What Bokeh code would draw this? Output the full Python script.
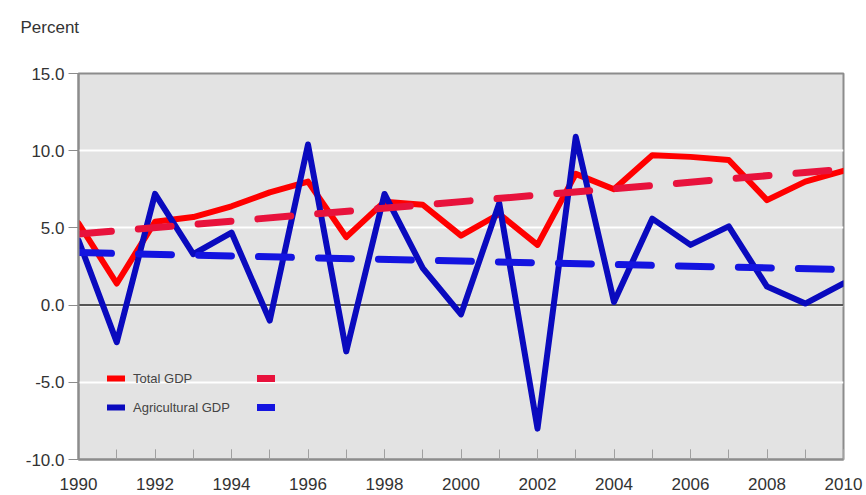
from bokeh.plotting import figure
from bokeh.models import (Range1d, SingleIntervalTicker, FixedTicker, NumeralTickFormatter,
                          Span, Title, Legend, LegendItem)
from bokeh.embed import file_html
from bokeh.resources import INLINE

# ---- data ----
years = [1990, 1991, 1992, 1993, 1994, 1995, 1996, 1997, 1998, 1999, 2000,
         2001, 2002, 2003, 2004, 2005, 2006, 2007, 2008, 2009, 2010]
total_gdp = [5.3, 1.4, 5.4, 5.7, 6.4, 7.3, 8.0, 4.4, 6.7, 6.5, 4.5,
             5.9, 3.9, 8.5, 7.5, 9.7, 9.6, 9.4, 6.8, 8.0, 8.7]
agri_gdp = [4.2, -2.4, 7.2, 3.3, 4.7, -1.0, 10.4, -3.0, 7.2, 2.4, -0.6,
            6.6, -8.0, 10.9, 0.2, 5.6, 3.9, 5.1, 1.2, 0.1, 1.4]
trend_years = [1990, 2010]
total_trend = [4.6, 8.8]
agri_trend = [3.4, 2.3]
y_ticks = [-10, -5, 0, 5, 10, 15]
series_labels = ["Total GDP", "Agricultural GDP"]
y_title = "Percent"

FONT = "Liberation Sans"

p = figure(width=866, height=495, output_backend="svg", toolbar_location=None,
           x_range=Range1d(1990, 2010), y_range=Range1d(-10, 15),
           min_border_left=78, min_border_right=23, min_border_top=73, min_border_bottom=36)

p.background_fill_color = "#E3E3E3"
p.border_fill_color = "white"
p.outline_line_color = "#8C8C8C"
p.outline_line_width = 2

# grid
p.xgrid.grid_line_color = None
p.ygrid.ticker = FixedTicker(ticks=y_ticks)
p.ygrid.grid_line_color = "white"
p.ygrid.grid_line_width = 2

zero = Span(location=0, dimension="width", line_color="#555555", line_width=2, level="underlay")
p.add_layout(zero)

# axes
xa = p.xaxis[0]
xa.ticker = SingleIntervalTicker(interval=2, num_minor_ticks=2)
xa.major_tick_in = 10
xa.major_tick_out = 0
xa.minor_tick_in = 10
xa.minor_tick_out = 0
xa.major_tick_line_color = "#A0A0A0"
xa.minor_tick_line_color = "#A0A0A0"
xa.axis_line_color = "#8C8C8C"
xa.axis_line_width = 2
xa.major_label_text_font = FONT
xa.major_label_text_font_size = "17px"
xa.major_label_text_color = "#333333"
xa.major_label_standoff = 18

ya = p.yaxis[0]
ya.ticker = FixedTicker(ticks=y_ticks)
ya.formatter = NumeralTickFormatter(format="0.0")
ya.major_tick_in = 0
ya.major_tick_out = 10
ya.minor_tick_line_color = None
ya.major_tick_line_color = "#8C8C8C"
ya.axis_line_color = "#8C8C8C"
ya.axis_line_width = 2
ya.major_label_text_font = FONT
ya.major_label_text_font_size = "17px"
ya.major_label_text_color = "#333333"
ya.major_label_standoff = 4

# lines
r_tot = p.line(years, total_gdp, line_color="#FF0000", line_width=6,
               line_join="round", line_cap="round")
r_agr = p.line(years, agri_gdp, line_color="#0A0ABE", line_width=6,
               line_join="round", line_cap="round")
r_tot_tr = p.line(trend_years, total_trend, line_color="#E8123C", line_width=7,
                  line_dash="33 27", line_cap="round")
r_agr_tr = p.line(trend_years, agri_trend, line_color="#1414E0", line_width=7,
                  line_dash="33 27", line_cap="round")

# legends
def make_legend(items, loc):
    lg = Legend(items=items, location=loc, padding=0, margin=0, spacing=9,
                glyph_width=18, glyph_height=20, label_height=20, label_standoff=8,
                background_fill_alpha=0, border_line_alpha=0,
                label_text_font=FONT, label_text_font_size="13px",
                label_text_color="#444444")
    return lg

leg1 = make_legend([LegendItem(label=series_labels[0], renderers=[r_tot]),
                    LegendItem(label=series_labels[1], renderers=[r_agr])], (29, 42))
leg2 = make_legend([LegendItem(label=" ", renderers=[r_tot_tr]),
                    LegendItem(label=" ", renderers=[r_agr_tr])], (179, 42))
p.add_layout(leg1)
p.add_layout(leg2)

# "Percent" at top-left (blank second line lifts it higher above the frame)
title = Title(text=y_title + "\n ", align="left", offset=-58, standoff=26,
              text_font=FONT, text_font_size="17px", text_font_style="normal",
              text_line_height=1.25, text_color="#333333")
p.add_layout(title, "above")

open("out.html", "w").write(file_html(p, INLINE))
